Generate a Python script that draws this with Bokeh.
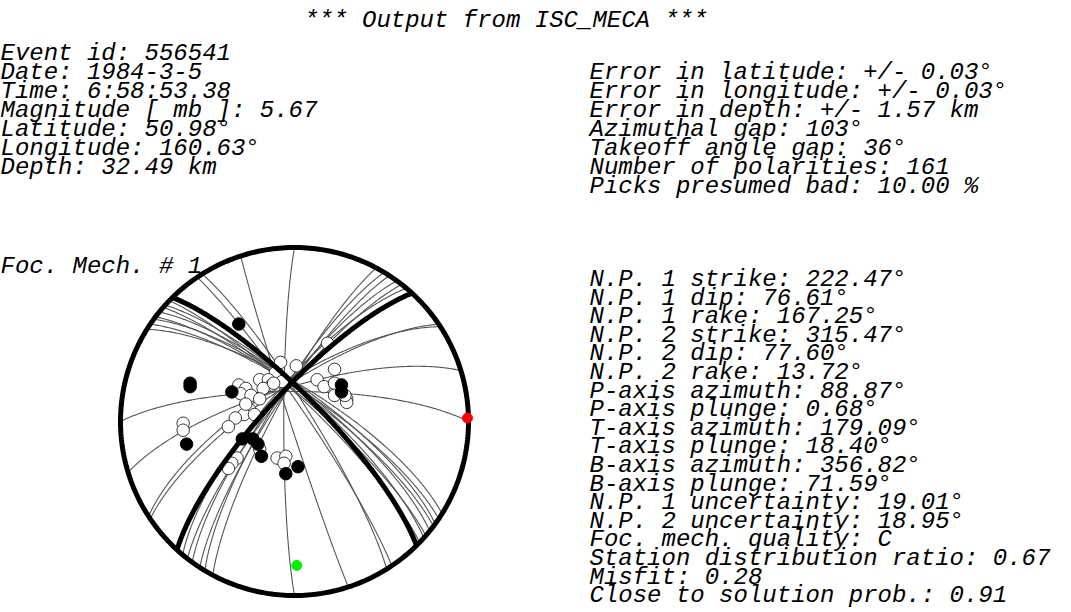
import numpy as np
from bokeh.plotting import figure
from bokeh.models import Range1d
from bokeh.core.properties import value
from bokeh.embed import file_html
from bokeh.resources import INLINE

# ---------------- data ----------------
title = "*** Output from ISC_MECA ***"
event_lines = ["Event id: 556541", "Date: 1984-3-5", "Time: 6:58:53.38",
               "Magnitude [ mb ]: 5.67", "Latitude: 50.98°", "Longitude: 160.63°",
               "Depth: 32.49 km"]
error_lines = ["Error in latitude: +/- 0.03°", "Error in longitude: +/- 0.03°",
               "Error in depth: +/- 1.57 km", "Azimuthal gap: 103°",
               "Takeoff angle gap: 36°", "Number of polarities: 161",
               "Picks presumed bad: 10.00 %"]
mech_label = "Foc. Mech. # 1"
mech_lines = ["N.P. 1 strike: 222.47°", "N.P. 1 dip: 76.61°", "N.P. 1 rake: 167.25°",
              "N.P. 2 strike: 315.47°", "N.P. 2 dip: 77.60°", "N.P. 2 rake: 13.72°",
              "P-axis azimuth: 88.87°", "P-axis plunge: 0.68°",
              "T-axis azimuth: 179.09°", "T-axis plunge: 18.40°",
              "B-axis azimuth: 356.82°", "B-axis plunge: 71.59°",
              "N.P. 1 uncertainty: 19.01°", "N.P. 2 uncertainty: 18.95°",
              "Foc. mech. quality: C", "Station distribution ratio: 0.67",
              "Misfit: 0.28", "Close to solution prob.: 0.91"]

# best nodal planes (strike, dip)
np_strikes = [222.47, 315.47]
np_dips = [76.61, 77.60]
# P and T axes (azimuth, plunge)
p_axis = (88.87, 0.68)
t_axis = (179.09, 18.40)

# other (thin) nodal planes: strike, dip
thin_strikes = [302, 304, 306, 307, 309, 311, 312, 314,
                326, 328, 180, 162, 236, 237, 253, 270,
                208, 211, 213, 216, 218, 220]
thin_dips = [74, 76, 75, 77, 76, 79, 77, 80,
             84, 82, 85, 88, 74, 72, 74, 76,
             80, 78, 79, 77, 78, 75]

# polarities: projected east / north positions, percent of net radius
comp_e = [-32, -60, -60, -36, -62, -30, -24, -21, -19, -5, 2, 27, 27]
comp_n = [56, 22, 20, 17, -13, -10, -10, -13, -20, -30, -26, 21, 17]
dil_e = [19, -8, 1, 23, -11, -20, -15, -13, -7, -32, -28, -31, -25, -18, -20,
         13, 17, 23, 23, 30, 30, -26, -29, -23, -34, -38, -64, -64, -20, -10,
         -5, -6, -33, -36, -38, -28, 29, -12]
dil_n = [45, 34, 32, 30, 28, 24, 24, 21, 23, 21, 19, 16, 15, 19, 13,
         24, 20, 22, 15, 13, 11, 7, 4, 4, 2, -3, -1, -5, -16, -21,
         -20, -24, -21, -24, -27, 10, 15, 22]

# ---------------- geometry helpers ----------------
CX, CY, R = 294.0, 421.0, 174.0


def to_page(e, n):
    return CX + R * np.asarray(e), CY - R * np.asarray(n)


def equal_area(az_deg, plunge_deg):
    az = np.radians(az_deg)
    p = np.radians(plunge_deg)
    r = np.sqrt(2.0) * np.sin((np.pi / 2 - p) / 2)
    return r * np.sin(az), r * np.cos(az)


def plane_curve(strike, dip, n=241):
    s, d = np.radians(strike), np.radians(dip)
    lam = np.linspace(0, np.pi, n)
    N = np.cos(lam) * np.cos(s) - np.sin(lam) * np.cos(d) * np.sin(s)
    E = np.cos(lam) * np.sin(s) + np.sin(lam) * np.cos(d) * np.cos(s)
    D = np.sin(lam) * np.sin(d)
    plunge = np.degrees(np.arcsin(np.clip(D, -1, 1)))
    az = np.degrees(np.arctan2(E, N))
    e, nn = equal_area(az, plunge)
    return to_page(e, nn)


# ---------------- figure ----------------
W, H = 1071, 612
p = figure(width=W, height=H, output_backend="svg", toolbar_location=None,
           x_range=Range1d(0, W), y_range=Range1d(H, 0),
           min_border=0, x_axis_location=None, y_axis_location=None,
           background_fill_color="white", border_fill_color="white")
p.grid.visible = False
p.outline_line_color = None

# thin planes
xs, ys = [], []
for s, d in zip(thin_strikes, thin_dips):
    x, y = plane_curve(s, d)
    xs.append(list(x)); ys.append(list(y))
p.multi_line(xs=xs, ys=ys, line_color="#555555", line_width=1.1)

# polarities
cx, cy = to_page(np.array(dil_e) / 100, np.array(dil_n) / 100)
p.scatter(x=cx, y=cy, size=12.5, fill_color="white", line_color="#222222", line_width=0.9)
cx, cy = to_page(np.array(comp_e) / 100, np.array(comp_n) / 100)
p.scatter(x=cx, y=cy, size=12.5, fill_color="black", line_color="black")

# best nodal planes
for s, d in zip(np_strikes, np_dips):
    x, y = plane_curve(s, d)
    p.line(x, y, line_color="black", line_width=5)

# outer circle
t = np.linspace(0, 2 * np.pi, 361)
ox, oy = to_page(np.sin(t), np.cos(t))
p.line(ox, oy, line_color="black", line_width=5)

# P / T axes
pe, pn = equal_area(*p_axis)
te, tn = equal_area(*t_axis)
px_, py_ = to_page([pe], [pn])
p.scatter(x=px_, y=py_, size=10, fill_color="red", line_color="red")
tx_, ty_ = to_page([te], [tn])
p.scatter(x=tx_, y=ty_, size=10, fill_color="#00ee00", line_color="#00ee00")

# ---------------- texts ----------------
font = value("Liberation Mono")
FS = "24px"


def add_text(x, y, txt, align="left"):
    p.text(x=x, y=y, text=txt, text_font=font, text_font_size=FS,
           text_font_style="italic", text_align=align,
           text_baseline="alphabetic", text_color="black")


add_text([505.5], [20], [title], align="center")
add_text([0] * len(event_lines), [52.5 + 19.1 * k for k in range(len(event_lines))], event_lines)
add_text([589] * len(error_lines), [71.7 + 19.1 * k for k in range(len(error_lines))], error_lines)
add_text([0], [265.5], [mech_label])
add_text([589] * len(mech_lines), [279.0 + 18.6 * k for k in range(len(mech_lines))], mech_lines)

html = file_html(p, INLINE)
open("out.html", "w").write(html)
